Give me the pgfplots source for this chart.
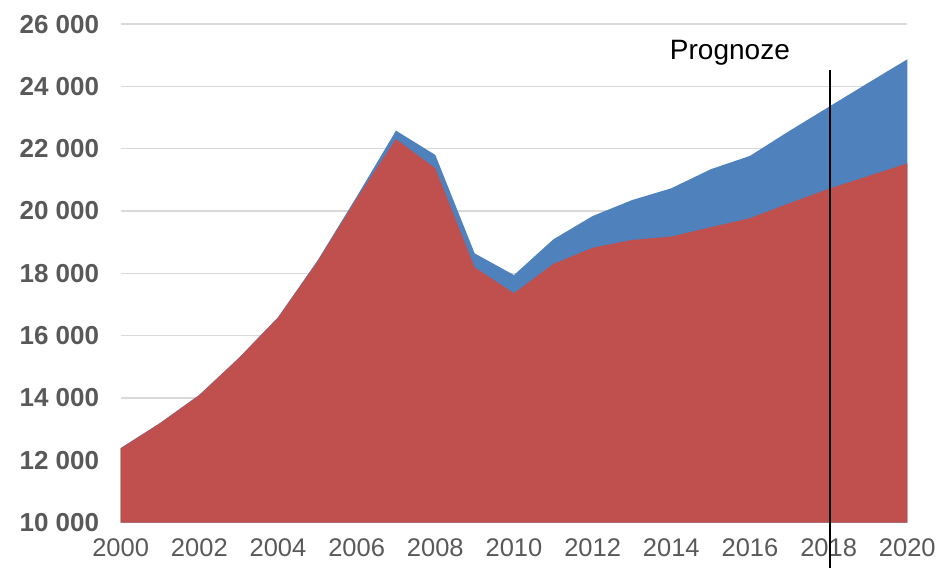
\documentclass[border=0pt]{standalone}
\usepackage{pgfplots}
\pgfplotsset{compat=1.18}
\usepackage{fontspec}
\setmainfont{Liberation Sans}
\definecolor{cred}{HTML}{C0504D}
\definecolor{cblue}{HTML}{4F81BD}
\definecolor{cgrid}{HTML}{D9D9D9}
\definecolor{ctick}{HTML}{595959}
\begin{document}
\begin{tikzpicture}
\begin{axis}[
  scale only axis,
  width=786.6pt, height=498.4pt,
  xmin=2000, xmax=2020, ymin=10000, ymax=26000,
  clip=false,
  scaled y ticks=false, scaled x ticks=false,
  axis line style={draw=none},
  major tick length=0pt,
  ymajorgrids,
  grid style={cgrid, line width=1.5pt},
  xtick={2000,2002,...,2020},
  xticklabels={2000,2002,2004,2006,2008,2010,2012,2014,2016,2018,2020},
  ytick={10000,12000,...,26000},
  yticklabels={10 000,12 000,14 000,16 000,18 000,20 000,22 000,24 000,26 000},
  /pgf/number format/assume math mode=true,
  xticklabel style={font=\fontsize{25.5}{30}\selectfont, text=ctick, yshift=-13pt},
  yticklabel style={font=\fontsize{26}{30}\selectfont\bfseries, text=ctick, xshift=-18pt},
]
\addplot[fill=cblue, draw=none] coordinates {
(2000,10000) (2000,12390) (2001,13195) (2002,14100) (2003,15280) (2004,16590)
(2005,18400) (2006,20460) (2007,22580) (2008,21800) (2009,18640) (2010,17945)
(2011,19090) (2012,19840) (2013,20350) (2014,20730) (2015,21340) (2016,21770)
(2017,22570) (2018,23340) (2019,24110) (2020,24870) (2020,10000)} -- cycle;
\addplot[fill=cred, draw=none] coordinates {
(2000,10000) (2000,12380) (2001,13185) (2002,14090) (2003,15270) (2004,16575)
(2005,18370) (2006,20400) (2007,22310) (2008,21370) (2009,18190) (2010,17360)
(2011,18300) (2012,18820) (2013,19070) (2014,19180) (2015,19480) (2016,19770)
(2017,20250) (2018,20710) (2019,21120) (2020,21530) (2020,10000)} -- cycle;
\addplot[black, line width=2pt] coordinates {(2018.03,8539) (2018.03,24527)};
\node[font=\fontsize{28}{32}\selectfont, text=black] at (axis cs:2015.49,25095) {Prognoze};
\coordinate (bl) at (rel axis cs:-0.1534,-0.0913);
\coordinate (tr) at (rel axis cs:1.0403,1.0484);
\end{axis}
\pgfresetboundingbox
\path[use as bounding box] (bl) rectangle (tr);
\end{tikzpicture}
\end{document}
